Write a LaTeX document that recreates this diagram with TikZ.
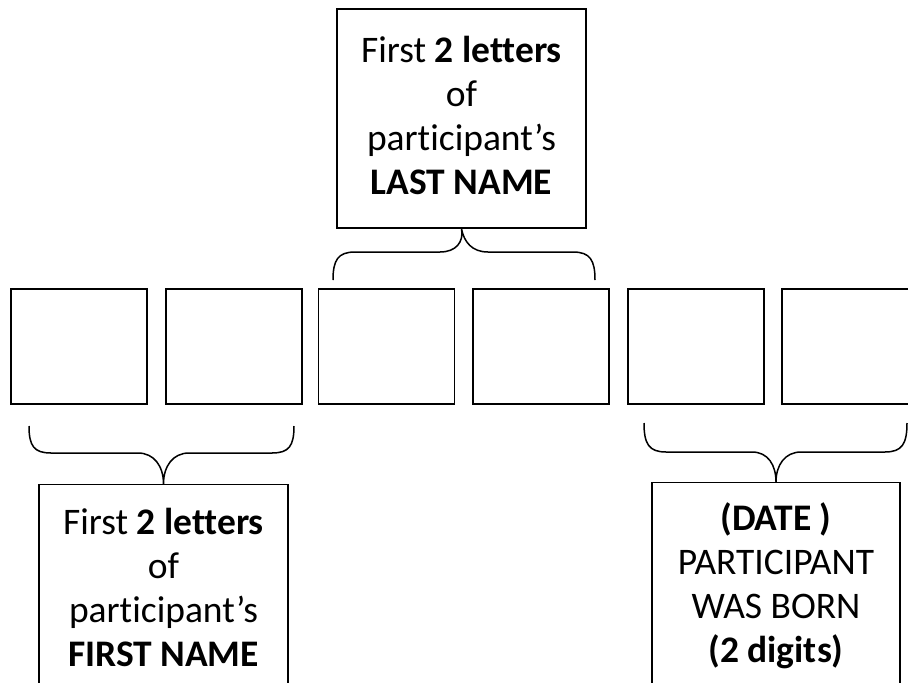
\documentclass[tikz,border=0pt]{standalone}
\usepackage{fontspec}
\setmainfont[Ligatures={NoCommon}]{Carlito}
\begin{document}
\begin{tikzpicture}[x=1pt,y=-1pt,
  cell/.style={draw, line width=1.8pt, minimum width=136pt, minimum height=115pt, inner sep=0pt},
  labelbox/.style={draw, line width=1.3pt, inner sep=0pt},
  labeltext/.style={align=center, font=\fontsize{37.5pt}{44pt}\selectfont, inner sep=0pt},
  bracket/.style={line width=1.5pt}]
\useasboundingbox (0,0) rectangle (908,683);
\begin{scope}
\clip (0,0) rectangle (908,683);
% six cells
\node[cell] (c1) at (79,346.5) {};
\node[cell] (c2) at (234,346.5) {};
\node[cell] (c3) at (386.5,346.5) {};
\node[cell] (c4) at (541,346.5) {};
\node[cell] (c5) at (696,346.5) {};
\node[cell] (c6) at (850,346.5) {};
% top box
\node[labelbox, minimum width=249pt, minimum height=219pt] (top) at (461.5,118.5) {};
\node[labeltext] (toptext) at (461.5,115) {First \textbf{2 letters}\\of\\participant’s\\\textbf{LAST NAME}};
% bottom boxes (cut by lower edge)
\node[labelbox, minimum width=249pt, minimum height=260pt, anchor=north] (bl) at (163.5,484) {};
\node[labeltext] (bltext) at (163.5,587) {First \textbf{2 letters}\\of\\participant’s\\\textbf{FIRST NAME}};
\node[labelbox, minimum width=248pt, minimum height=260pt, anchor=north] (br) at (776,482) {};
\node[labeltext] (brtext) at (776,586) {\textbf{(DATE )}\\PARTICIPANT\\WAS BORN\\\textbf{(2 digits)}};
% braces
\coordinate (tl) at (333,280);
\coordinate (tr) at (595,280);
\draw[bracket] (tl) .. controls (333,260) and (338,252) .. (355,252) -- (440,252)
  .. controls (456,252) and (464,242) .. (top.south)
  .. controls (464,242) and (472,252) .. (488,252) -- (573,252)
  .. controls (590,252) and (595,260) .. (tr);
\coordinate (bll) at (29,426);
\coordinate (blr) at (294,426);
\draw[bracket] (bll) .. controls (29,446) and (34,453) .. (51,453) -- (138,453)
  .. controls (154,453) and (163.5,466) .. (bl.north)
  .. controls (163.5,466) and (173,453) .. (189,453) -- (272,453)
  .. controls (289,453) and (294,446) .. (blr);
\coordinate (brl) at (644,423);
\coordinate (brr) at (907,423);
\draw[bracket] (brl) .. controls (644,444) and (649,452) .. (666,452) -- (752,452)
  .. controls (768,452) and (776,465) .. (br.north)
  .. controls (776,465) and (785,452) .. (801,452) -- (885,452)
  .. controls (902,452) and (907,444) .. (brr);
\end{scope}
\end{tikzpicture}
\end{document}
